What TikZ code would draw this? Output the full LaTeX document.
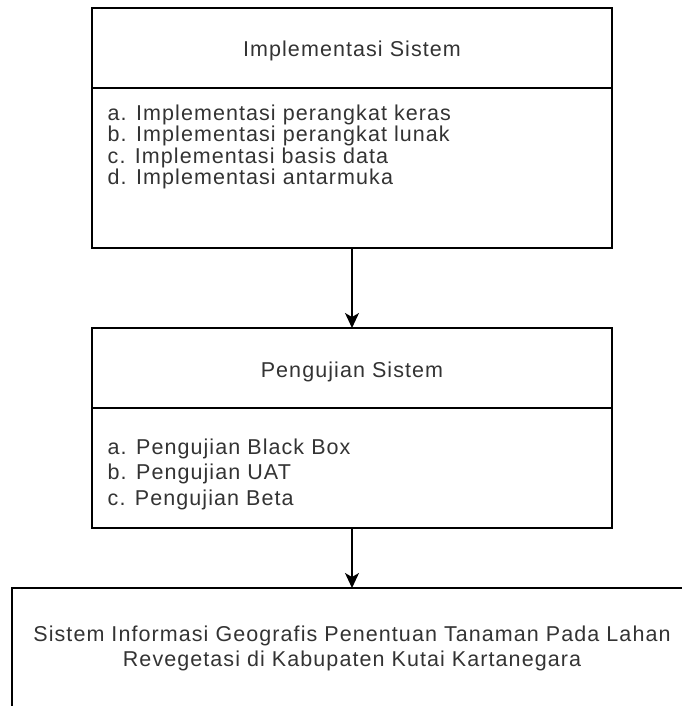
\documentclass[tikz,border=0pt]{standalone}
\usepackage{fontspec}
\setmainfont{Liberation Sans}[LetterSpace=5]
\usetikzlibrary{arrows.meta,positioning}

\begin{document}
\begin{tikzpicture}[x=1pt, y=-1pt, >={Stealth[length=15pt,width=14pt,inset=4pt]}, line width=1.4pt]
    % gaya kotak
    \tikzstyle{kepala}=[draw, minimum width=520pt, minimum height=80pt, inner sep=0pt, outer sep=0pt, text height=18pt, text depth=0pt, text=black!80, font=\fontsize{21.5}{25}\selectfont]
    \tikzstyle{isi}=[draw, minimum width=520pt, inner sep=0pt, outer sep=0pt]
    \tikzstyle{daftar}=[anchor=north west, align=left, inner sep=0pt, text=black!80]

    \useasboundingbox (0,0) rectangle (681,706);

    % kotak implementasi
    \node[kepala] (implKepala) at (352,48) {Implementasi Sistem};
    \node[isi, minimum height=160pt, below=0pt of implKepala] (implIsi) {};
    \node[daftar, font=\fontsize{21.5}{21.4}\selectfont] (implDaftar) at ([xshift=15pt,yshift=-16pt]implIsi.north west)
        {a. Implementasi perangkat keras\\b. Implementasi perangkat lunak\\c. Implementasi basis data\\d. Implementasi antarmuka};

    % kotak pengujian
    \node[kepala, below=80pt of implIsi] (ujiKepala) {Pengujian Sistem};
    \node[isi, minimum height=120pt, below=0pt of ujiKepala] (ujiIsi) {};
    \node[daftar, font=\fontsize{21.5}{25.7}\selectfont] (ujiDaftar) at ([xshift=15pt,yshift=-30pt]ujiIsi.north west)
        {a. Pengujian Black Box\\b. Pengujian UAT\\c. Pengujian Beta};

    % kotak hasil
    \node[draw, minimum width=680pt, minimum height=140pt, outer sep=0pt, below=60pt of ujiIsi] (hasil) {};
    \node[anchor=north, align=center, inner sep=0pt, text=black!80, font=\fontsize{21.5}{25}\selectfont] (hasilTeks) at ([yshift=-37pt]hasil.north)
        {Sistem Informasi Geografis Penentuan Tanaman Pada Lahan\\Revegetasi di Kabupaten Kutai Kartanegara};

    % panah
    \draw[->] (implIsi) -- (ujiKepala);
    \draw[->] (ujiIsi) -- (hasil);
\end{tikzpicture}
\end{document}
